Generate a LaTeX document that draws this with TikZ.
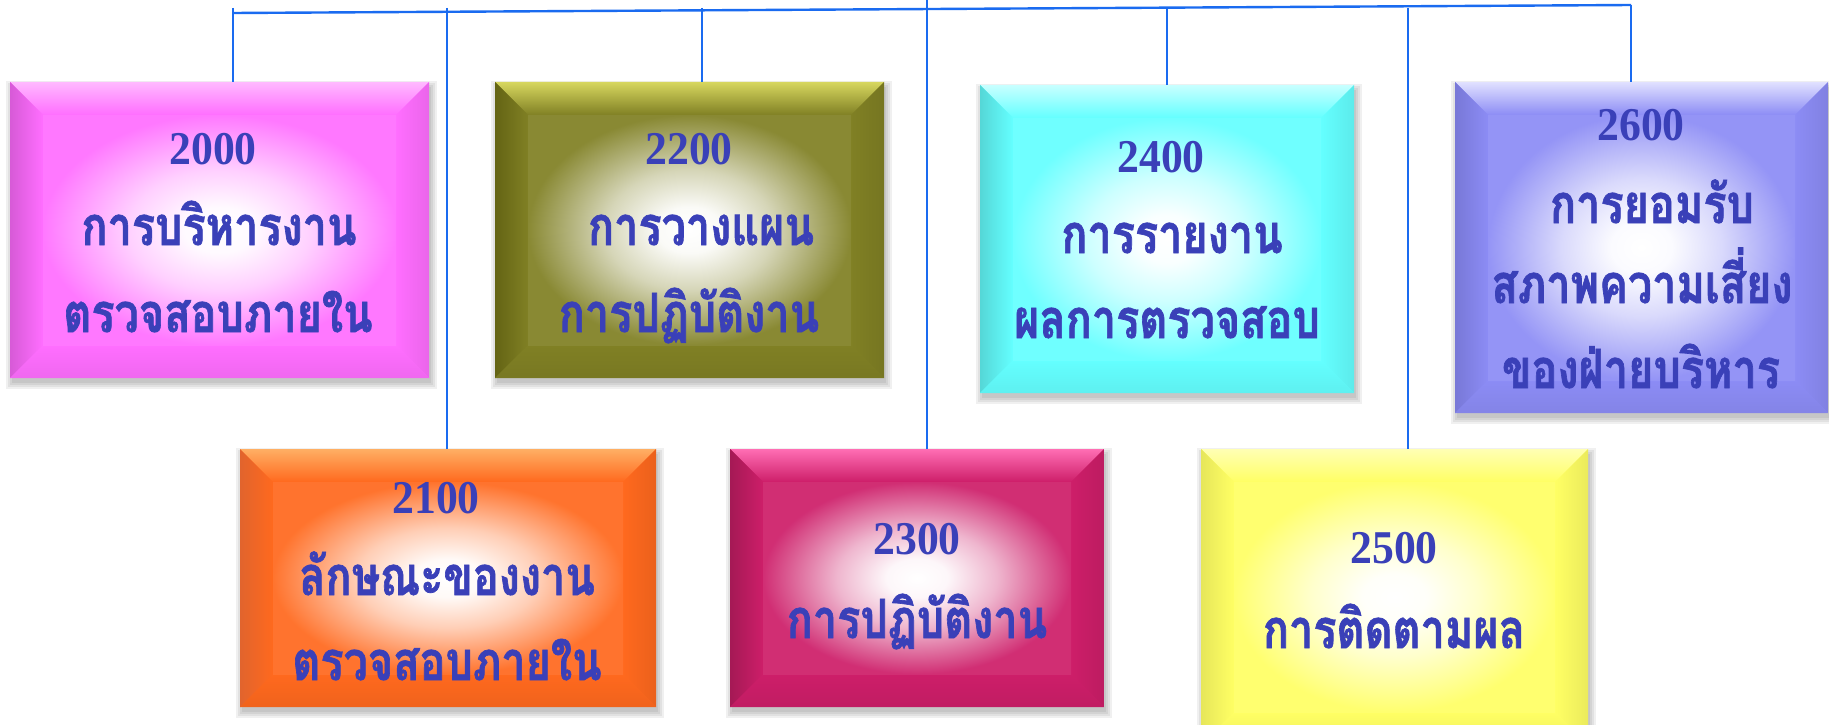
\documentclass[tikz,border=0pt]{standalone}
\usepackage{fontspec}
\usetikzlibrary{fit}
\newfontfamily\thaifont[Script=Thai,FakeStretch=0.8,FakeBold=1.2]{Loma}
\newfontfamily\numfont[FakeStretch=0.93]{Liberation Serif}
\definecolor{txtblue}{RGB}{58,64,184}
\definecolor{lineblue}{RGB}{26,107,240}
\definecolor{pinkB}{RGB}{255,110,255}\definecolor{pinkL}{RGB}{255,185,255}\definecolor{pinkD}{RGB}{215,90,215}
\definecolor{oliveB}{RGB}{128,128,36}\definecolor{oliveL}{RGB}{215,215,95}\definecolor{oliveD}{RGB}{100,100,20}
\definecolor{cyanB}{RGB}{100,255,255}\definecolor{cyanL}{RGB}{200,255,255}\definecolor{cyanD}{RGB}{85,215,215}
\definecolor{periB}{RGB}{140,140,245}\definecolor{periL}{RGB}{225,225,255}\definecolor{periD}{RGB}{120,120,215}
\definecolor{orangeB}{RGB}{255,105,30}\definecolor{orangeL}{RGB}{255,175,100}\definecolor{orangeD}{RGB}{225,100,45}
\definecolor{crimB}{RGB}{205,30,105}\definecolor{crimL}{RGB}{255,110,180}\definecolor{crimD}{RGB}{165,25,85}
\definecolor{yelB}{RGB}{255,255,100}\definecolor{yelL}{RGB}{255,255,180}\definecolor{yelD}{RGB}{230,230,90}
\colorlet{facecol}{white}
\pgfdeclareradialshading[facecol]{facesh}{\pgfpoint{0bp}{0bp}}{color(0bp)=(white); color(5bp)=(white!96!facecol); color(13bp)=(white!65!facecol); color(25bp)=(facecol); color(50bp)=(facecol)}
\tikzset{
  vline/.style={draw=lineblue, line width=1.6pt},
  hline/.style={draw=lineblue, line width=2.4pt},
  boxnode/.style={inner sep=0pt, draw=none},
  thaitxt/.style={anchor=base, inner sep=0pt, text=txtblue, font=\thaifont\bfseries\fontsize{54}{58}\selectfont},
  numtxt/.style={anchor=base, inner sep=0pt, text=txtblue, font=\numfont\bfseries\fontsize{47}{50}\selectfont}
}
% #1 name, #2 x1, #3 y1, #4 x2, #5 y2, #6 base, #7 light, #8 dark
\newcommand\bevbox[8]{%
  \foreach \s in {1,3,5,7}{\fill[black,opacity=0.06] (#2+3-\s,#3+6-\s) rectangle (#4+1+\s,#5+4+\s);}
  \fill[#6] (#2,#3) rectangle (#4,#5);
  \shade[top color=#7,bottom color=#6] (#2,#3) -- (#4,#3) -- (#4-33,#3+33) -- (#2+33,#3+33) -- cycle;
  \shade[left color=#8,right color=#6] (#2,#3) -- (#2+33,#3+33) -- (#2+33,#5-33) -- (#2,#5) -- cycle;
  \shade[left color=#6,right color=#6!92!black] (#4,#3) -- (#4-33,#3+33) -- (#4-33,#5-33) -- (#4,#5) -- cycle;
  \shade[top color=#6,bottom color=#6!94!black] (#2,#5) -- (#2+33,#5-33) -- (#4-33,#5-33) -- (#4,#5) -- cycle;
  \colorlet{facecol}{#6!93!white}
  \fill[shading=facesh] (#2+33,#3+33) rectangle (#4-33,#5-33);
  \coordinate (#1-nw) at (#2,#3);
  \coordinate (#1-se) at (#4,#5);
  \node[boxnode, fit=(#1-nw)(#1-se)] (#1) {};
}
\begin{document}
\begin{tikzpicture}[x=1pt,y=-1pt]
\useasboundingbox (0,0) rectangle (1829,725);
\clip (0,0) rectangle (1829,725);
\fill[white] (0,0) rectangle (1829,725);

% boxes
\bevbox{b2000}{10}{82}{429}{378}{pinkB}{pinkL}{pinkD}
\bevbox{b2200}{495}{82}{884}{378}{oliveB}{oliveL}{oliveD}
\bevbox{b2400}{980}{85}{1354}{393}{cyanB}{cyanL}{cyanD}
\bevbox{b2600}{1455}{82}{1828}{413}{periB}{periL}{periD}
\bevbox{b2100}{240}{449}{656}{707}{orangeB}{orangeL}{orangeD}
\bevbox{b2300}{730}{449}{1104}{707}{crimB}{crimL}{crimD}
\bevbox{b2500}{1201}{449}{1588}{745}{yelB}{yelL}{yelD}

% connectors
\coordinate (hL) at (233,13);
\coordinate (hR) at (1631,5);
\coordinate (c0) at (233,8);
\coordinate (c1) at (447,8);
\coordinate (c2) at (702,8);
\coordinate (c3) at (927,0);
\coordinate (c4) at (1167,8);
\coordinate (c5) at (1408,8);
\coordinate (c6) at (1631,5);
\draw[hline] (hL) -- (hR);
\draw[vline] (c0) -- (c0 |- b2000.north);
\draw[vline] (c1) -- (c1 |- b2100.north);
\draw[vline] (c2) -- (c2 |- b2200.north);
\draw[vline] (c3) -- (c3 |- b2300.north);
\draw[vline] (c4) -- (c4 |- b2400.north);
\draw[vline] (c5) -- (c5 |- b2500.north);
\draw[vline] (c6) -- (c6 |- b2600.north);

% texts
\node[numtxt] (n2000) at (213,164) {2000};
\node[thaitxt] (t2000a) at (219,245) {การบริหารงาน};
\node[thaitxt] (t2000b) at (218,332) {ตรวจสอบภายใน};

\node[numtxt] (n2200) at (689,164) {2200};
\node[thaitxt] (t2200a) at (701,245) {การวางแผน};
\node[thaitxt] (t2200b) at (689,332) {การปฏิบัติงาน};

\node[numtxt] (n2400) at (1161,172) {2400};
\node[thaitxt] (t2400a) at (1172,253) {การรายงาน};
\node[thaitxt] (t2400b) at (1167,338) {ผลการตรวจสอบ};

\node[numtxt] (n2600) at (1641,140) {2600};
\node[thaitxt] (t2600a) at (1652,223) {การยอมรับ};
\node[thaitxt] (t2600b) at (1642,303) {สภาพความเสี่ยง};
\node[thaitxt] (t2600c) at (1641,388) {ของฝ่ายบริหาร};

\node[numtxt] (n2100) at (436,513) {2100};
\node[thaitxt] (t2100a) at (447,595) {ลักษณะของงาน};
\node[thaitxt] (t2100b) at (447,680) {ตรวจสอบภายใน};

\node[numtxt] (n2300) at (917,554) {2300};
\node[thaitxt] (t2300a) at (917,638) {การปฏิบัติงาน};

\node[numtxt] (n2500) at (1394,563) {2500};
\node[thaitxt] (t2500a) at (1394,648) {การติดตามผล};
\end{tikzpicture}
\end{document}
